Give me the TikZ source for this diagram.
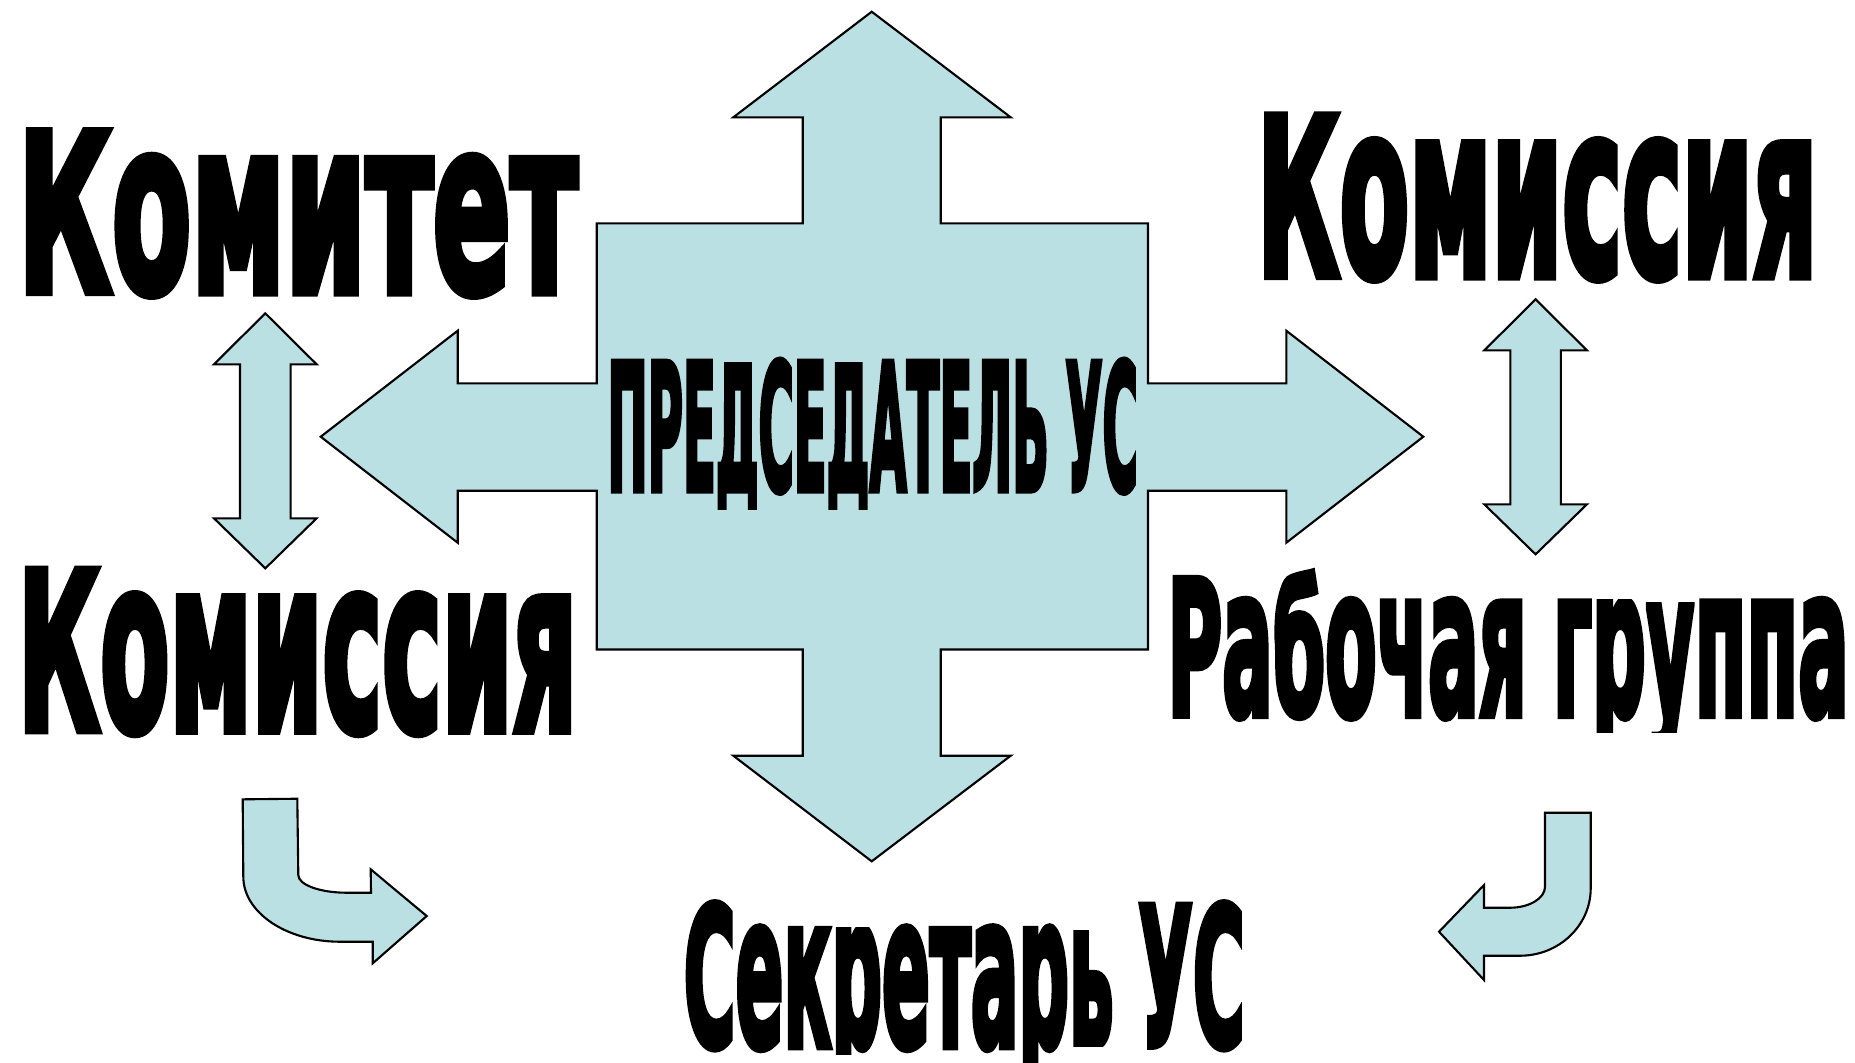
\documentclass[tikz,border=0pt]{standalone}
\usepackage{fontspec}
\usepackage{graphicx}
\usepackage{trimclip}
\newfontfamily\wordart[FakeBold=4]{DejaVu Sans Condensed Bold}
\definecolor{arrowfill}{HTML}{BBE0E3}
\newcommand\wa[3]{\resizebox{#1}{#2}{\wordart #3}}
\newcommand\lowcap[1]{\scalebox{1}[0.91]{#1}}
\newcommand\shortd[2][0.6]{\clipbox{0pt {#1\depth} 0pt 0pt}{#2}}

\begin{document}
\begin{tikzpicture}[x=0.01cm,y=-0.01cm,
  blockarrow/.style={fill=arrowfill,draw=black,line width=0.6pt,line join=miter},
  bigword/.style={inner sep=0pt,anchor=base west}]
\useasboundingbox (0,0) rectangle (1855,1062);
% the big cross
\draw[blockarrow] (871.7,11.7) -- (1010.7,117.3) -- (940.7,117.3) -- (940.7,223.3)
  -- (1148,223.3) -- (1148,383.3) -- (1286.3,383.3) -- (1286.3,330.7) -- (1423.3,436.7)
  -- (1286.3,542.7) -- (1286.3,490.7) -- (1148,490.7) -- (1148,649.5) -- (940.7,649.5)
  -- (940.7,755.7) -- (1010.7,755.7) -- (871.7,861.3) -- (733.3,755.7) -- (802.7,755.7)
  -- (802.7,649.5) -- (596.7,649.5) -- (596.7,490.7) -- (457.7,490.7) -- (457.7,542.7)
  -- (320.7,436.7) -- (457.7,330.7) -- (457.7,383.3) -- (596.7,383.3) -- (596.7,223.3)
  -- (802.7,223.3) -- (802.7,117.3) -- (733.3,117.3) -- cycle;
% small up-down arrows
\foreach \cx/\cy in {265.3/313.3,1535.6/299.3}
  \draw[blockarrow,shift={(\cx,\cy)}] (0,0) -- (51.3,51) -- (25.3,51) -- (25.3,205)
    -- (51.3,205) -- (0,255) -- (-51.3,205) -- (-25.3,205) -- (-25.3,51) -- (-51.3,51) -- cycle;
% bent arrows
\draw[blockarrow] (242.7,799.3) -- (297.3,798.7) -- (298.3,875)
  .. controls (298.3,884.8) and (320,892.7) .. (346.7,892.7) -- (371,892.7)
  -- (370.7,869.3) -- (426.7,916) -- (372.7,963.3) -- (372.7,941.7) -- (340,941.7)
  .. controls (286.6,941.7) and (243.3,912.6) .. (243.3,876.7) -- cycle;
\draw[blockarrow] (1545,812.7) -- (1590.7,812.7) -- (1590.7,888.3)
  .. controls (1590.7,925.5) and (1559,955.7) .. (1520,955.7) -- (1484,955.7)
  -- (1484,980) -- (1439,931.7) -- (1484,885) -- (1484,907.7) -- (1510,907.7)
  .. controls (1529.3,907.7) and (1545,898.3) .. (1545,886.7) -- cycle;
% texts
\node[bigword] (chair) at (606.8,490) {\wa{5.30cm}{1.30cm}{ПРЕ\shortd[0.3]{Д}СЕ\shortd[0.3]{Д}АТЕЛЬ УС}};
\node[bigword] (committee) at (17.2,291.7) {\wa{5.595cm}{1.60cm}{\lowcap{К}омитет}};
\node[bigword] (commtop) at (1256.5,275.7) {\wa{5.60cm}{1.597cm}{\lowcap{К}омиссия}};
\node[bigword] (commleft) at (17.2,730) {\wa{5.59cm}{1.60cm}{\lowcap{К}омиссия}};
\node[bigword] (workgroup) at (1166.6,715) {\wa{6.81cm}{1.433cm}{\lowcap{Р}а\scalebox{1}[0.88]{б}очая г\shortd{р}\shortd{у}ппа}};
\node[bigword] (secretary) at (683,1046) {\wa{5.606cm}{1.43cm}{\lowcap{С}ек\shortd[0.8]{р}етар\shortd[0.9]{ь} \lowcap{УС}}};
\end{tikzpicture}
\end{document}
